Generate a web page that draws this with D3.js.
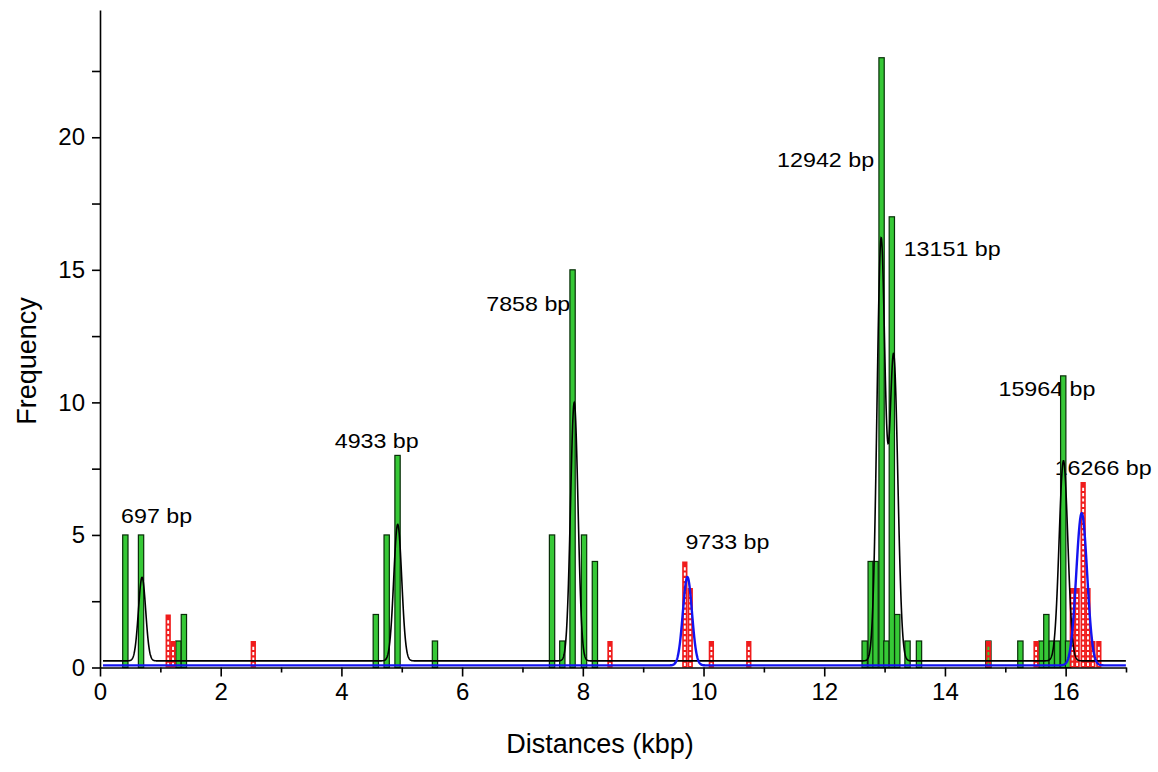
<!DOCTYPE html>
<html>
<head>
<meta charset="utf-8">
<script src="https://cdn.jsdelivr.net/npm/d3@7"></script>
<style>
  body { margin: 0; background: #fff; }
  svg { display: block; }
  text { font-family: "Liberation Sans", Arial, sans-serif; fill: #000; }
</style>
</head>
<body>
<svg id="chart" width="1158" height="772"></svg>
<script>
// Histogram of distances (kbp): first set (green bars)
const greenBins   = [0.42, 0.68, 1.30, 1.39, 4.57, 4.75, 4.93, 5.55, 7.49, 7.66, 7.83, 8.02, 8.20,
                     12.67, 12.77, 12.85, 12.95, 13.03, 13.12, 13.21, 13.38, 13.57,
                     14.72, 15.25, 15.60, 15.68, 15.77, 15.86, 15.96, 16.04];
const greenCounts = [5, 5, 1, 2, 2, 5, 8, 1, 5, 1, 15, 5, 4,
                     1, 4, 4, 23, 1, 17, 2, 1, 1,
                     1, 1, 1, 2, 1, 1, 11, 1];

// Second set (red hatched bars)
const redBins   = [1.13, 1.21, 2.54, 8.45, 9.69, 9.78, 10.13, 10.75, 14.72, 15.51,
                   16.11, 16.19, 16.29, 16.37, 16.45, 16.55];
const redCounts = [2, 1, 1, 1, 4, 3, 1, 1, 1, 1, 3, 3, 7, 3, 1, 1];

// Multi-peak Gaussian fit of the first set (black curve)
const blackCenters = [0.697, 4.933, 7.858, 12.942, 13.151, 15.964];
const blackHeights = [3.15, 5.15, 9.75, 15.86, 11.45, 7.55];
const blackSigmas  = [0.060, 0.066, 0.062, 0.068, 0.068, 0.072];
const blackOffset  = 0.25;

// Gaussian fit of the second set (blue curve)
const blueCenters = [9.733, 16.266];
const blueHeights = [3.33, 5.74];
const blueSigmas  = [0.075, 0.090];
const blueOffset  = 0.08;

// Peak annotations
const peakLabels = ["697 bp", "4933 bp", "7858 bp", "9733 bp", "12942 bp", "13151 bp", "15964 bp", "16266 bp"];
const peakLabelAt = [0.697, 4.933, 7.858, 9.733, 12.942, 13.151, 15.964, 16.266];

// Axis ticks
const xMajorTicks = [0, 2, 4, 6, 8, 10, 12, 14, 16];
const xMinorTicks = [1, 3, 5, 7, 9, 11, 13, 15, 17];
const yMajorTicks = [0, 5, 10, 15, 20];
const yMinorTicks = [2.5, 7.5, 12.5, 17.5, 22.5];

const xTitle = "Distances (kbp)";
const yTitle = "Frequency";

// ---------- layout ----------
const svg = d3.select("#chart");
const x = d3.scaleLinear().domain([0, 17]).range([100, 1126]);
const y = d3.scaleLinear().domain([0, 24.8]).range([667.5, 10]);
const barW = 0.088;              // bin width in kbp
const fitStep = 0.004;           // sampling step for drawing fit curves
const fitDomain = [0.05, 17];

// label placement (pixel offsets from peak position)
const labelLayout = [
  { dx: -21, base: 523,   len: 71 },
  { dx: -63, base: 448,   len: 84 },
  { dx: -88, base: 311,   len: 84 },
  { dx: -2,  base: 549,   len: 84 },
  { dx: -104, base: 167,  len: 97 },
  { dx: 10,  base: 256,   len: 97 },
  { dx: -65, base: 396,   len: 97 },
  { dx: -27, base: 475,   len: 97 }
];

// Peak labels sit underneath the bars and curves
const labG = svg.append("g");
peakLabels.forEach((t, i) => {
  const L = labelLayout[i];
  labG.append("text")
    .attr("x", x(peakLabelAt[i]) + L.dx)
    .attr("y", L.base)
    .attr("font-size", 21)
    .attr("textLength", L.len)
    .attr("lengthAdjust", "spacingAndGlyphs")
    .text(t);
});

// Green bars
const greenData = greenBins.map((b, i) => ({ b, c: greenCounts[i] }));
svg.append("g").selectAll("rect").data(greenData).join("rect")
  .attr("x", d => x(d.b - barW / 2))
  .attr("width", d => x(d.b + barW / 2) - x(d.b - barW / 2))
  .attr("y", d => y(d.c))
  .attr("height", d => y(0) - y(d.c))
  .attr("fill", "#36c836")
  .attr("stroke", "#082e08")
  .attr("stroke-width", 1.2);

// Red bars with a column of open cells (evenodd holes)
const redData = redBins.map((b, i) => ({ b, c: redCounts[i] }));
function hatchedBar(d) {
  const x0 = x(d.b - barW / 2), x1 = x(d.b + barW / 2);
  const yt = y(d.c), yb = y(0);
  const w = x1 - x0;
  let p = `M${x0},${yt}H${x1}V${yb}H${x0}Z`;
  const cw = Math.max(1.4, w * 0.36), cx = x0 + (w - cw) / 2;
  const period = 5.3, ch = 3.2;
  for (let top = yb - 1.6 - ch; top > yt + 1.2; top -= period) {
    p += `M${cx},${top}h${cw}v${ch}h${-cw}Z`;
  }
  return p;
}
svg.append("g").selectAll("path").data(redData).join("path")
  .attr("d", hatchedBar)
  .attr("fill", "#f01c1c")
  .attr("fill-rule", "evenodd");

// Fit curves
function fitLine(centers, heights, sigmas, offset) {
  const pts = d3.range(fitDomain[0], fitDomain[1] + 1e-9, fitStep).map(v => {
    let s = offset;
    centers.forEach((c, i) => {
      const z = (v - c) / sigmas[i];
      s += heights[i] * Math.exp(-0.5 * z * z);
    });
    return [v, s];
  });
  return d3.line().x(p => x(p[0])).y(p => y(p[1]))(pts);
}
svg.append("path")
  .attr("d", fitLine(blackCenters, blackHeights, blackSigmas, blackOffset))
  .attr("fill", "none").attr("stroke", "#000").attr("stroke-width", 1.6);
svg.append("path")
  .attr("d", fitLine(blueCenters, blueHeights, blueSigmas, blueOffset))
  .attr("fill", "none").attr("stroke", "#1414f0").attr("stroke-width", 2.4);

// Axes
const axisStyle = g => {
  g.selectAll("path,line").attr("stroke", "#000").attr("stroke-width", 1.6);
  g.selectAll("text").attr("font-size", 24).attr("font-family", '"Liberation Sans", Arial, sans-serif');
};
svg.append("g").attr("transform", `translate(0,${y(0)})`)
  .call(d3.axisBottom(x).tickValues(xMinorTicks).tickSize(5).tickSizeOuter(0).tickFormat(""))
  .call(axisStyle);
svg.append("g").attr("transform", `translate(0,${y(0)})`)
  .call(d3.axisBottom(x).tickValues(xMajorTicks).tickSize(9).tickSizeOuter(0).tickPadding(6).tickFormat(d3.format("d")))
  .call(axisStyle)
  .call(g => g.select(".domain").remove());
svg.append("g").attr("transform", `translate(${x(0)},0)`)
  .call(d3.axisLeft(y).tickValues(yMinorTicks).tickSize(8).tickSizeOuter(0).tickFormat(""))
  .call(axisStyle);
svg.append("g").attr("transform", `translate(${x(0)},0)`)
  .call(d3.axisLeft(y).tickValues(yMajorTicks).tickSize(8).tickSizeOuter(0).tickPadding(7).tickFormat(d3.format("d")))
  .call(axisStyle)
  .call(g => g.select(".domain").remove());

// Axis titles
svg.append("text")
  .attr("x", 600).attr("y", 753)
  .attr("text-anchor", "middle")
  .attr("font-size", 27)
  .text(xTitle);
svg.append("text")
  .attr("transform", "translate(36,361) rotate(-90)")
  .attr("text-anchor", "middle")
  .attr("font-size", 27)
  .text(yTitle);
</script>
</body>
</html>
